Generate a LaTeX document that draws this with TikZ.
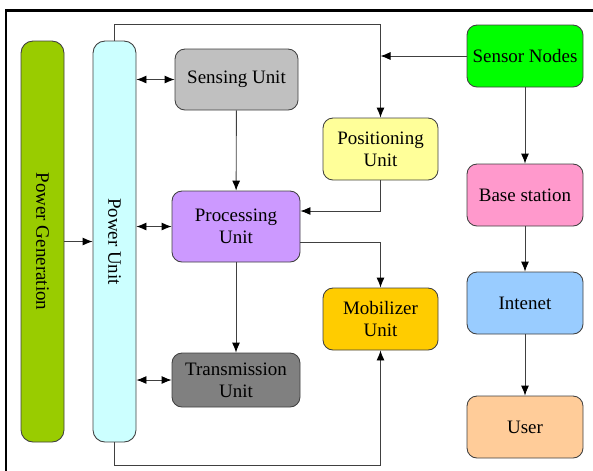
\documentclass[tikz,border=0pt]{standalone}
\usepackage{fontspec}
\setmainfont{Liberation Serif}
\newfontfamily\labelfont{Liberation Serif}
\usepackage{tikz}
\usetikzlibrary{positioning,arrows.meta}

\definecolor{genclr}{HTML}{99CC00}
\definecolor{pwrclr}{HTML}{CCFFFF}
\definecolor{senseclr}{HTML}{C0C0C0}
\definecolor{procclr}{HTML}{CC99FF}
\definecolor{transclr}{HTML}{808080}
\definecolor{posclr}{HTML}{FFFF99}
\definecolor{mobclr}{HTML}{FFCC00}
\definecolor{nodeclr}{HTML}{00FF00}
\definecolor{baseclr}{HTML}{FF99CC}
\definecolor{netclr}{HTML}{99CCFF}
\definecolor{userclr}{HTML}{FFCC99}

\begin{document}
\begin{tikzpicture}[
  box/.style={draw=black!75, line width=0.5pt, rounded corners=0.2cm, align=center, inner sep=2pt,
    font=\labelfont\fontsize{10.8}{12.5}\selectfont, minimum width=2.3cm, minimum height=1.24cm},
  bar/.style={draw=black!75, line width=0.5pt, rounded corners=0.24cm, minimum width=0.86cm, minimum height=8.02cm},
  bartext/.style={rotate=-90, font=\labelfont\fontsize{10.8}{12.5}\selectfont},
  link/.style={draw=black!75, line width=0.5pt, -{Latex[length=2mm,width=1.6mm,color=black]}},
  both/.style={link, {Latex[length=2mm,width=1.6mm,color=black]}-{Latex[length=2mm,width=1.6mm,color=black]}}]
\useasboundingbox (0,0) rectangle (11.86,-9.4);
\draw[line width=1.7pt] (0.12,-9.8) -- (0.12,-0.2) -- (12.2,-0.2);
\node[bar, fill=genclr] (pgen)  at (0.85,-4.83) {};
\node[bartext] (pgentext) at (pgen) {Power Generation};
\node[bar, fill=pwrclr] (punit) at (2.29,-4.83) {};
\node[bartext] (punittext) at (punit) {Power Unit};
\node[box, fill=senseclr, minimum width=2.46cm, minimum height=1.22cm] (sense) at (4.73,-1.59) {Sensing Unit};
\node[box, fill=procclr, minimum width=2.56cm, minimum height=1.42cm]  (proc)  at (4.72,-4.53) {Processing\\Unit};
\node[box, fill=transclr, minimum width=2.56cm, minimum height=1.08cm] (trans) at (4.72,-7.60) {Transmission\\Unit};
\node[box, fill=posclr]  (pos)    at (7.61,-2.98)  {Positioning\\Unit};
\node[box, fill=mobclr]  (mob)    at (7.61,-6.38)  {Mobilizer\\Unit};
\node[box, fill=nodeclr, minimum width=2.32cm] (snodes) at (10.50,-1.12) {Sensor Nodes};
\node[box, fill=baseclr, minimum width=2.32cm] (base)   at (10.50,-3.90) {Base station};
\node[box, fill=netclr, minimum width=2.32cm]  (inet)   at (10.50,-6.06) {Intenet};
\node[box, fill=userclr, minimum width=2.32cm] (user)   at (10.50,-8.54) {User};
\draw[link] (pgen) -- (punit);
\draw[both] (punit.east |- sense) -- (sense.west);
\draw[both] (punit.east |- proc) -- (proc.west);
\draw[both] (punit.east |- trans) -- (trans.west);
\draw[link] (sense) -- (proc);
\draw[link] (proc) -- (trans);
\draw[link] (punit.north) -- ++(0,0.32) -| (pos.north);
\draw[link] (snodes.west) -- (snodes.west -| pos.north);
\draw[link] (pos.south) |- ([yshift=0.31cm]proc.east);
\draw[link] ([yshift=-0.31cm]proc.east) -| (mob.north);
\draw[link] (punit.south) -- ++(0,-0.46) -| (mob.south);
\draw[link] (snodes) -- (base);
\draw[link] (base) -- (inet);
\draw[link] (inet) -- (user);
\end{tikzpicture}
\end{document}
